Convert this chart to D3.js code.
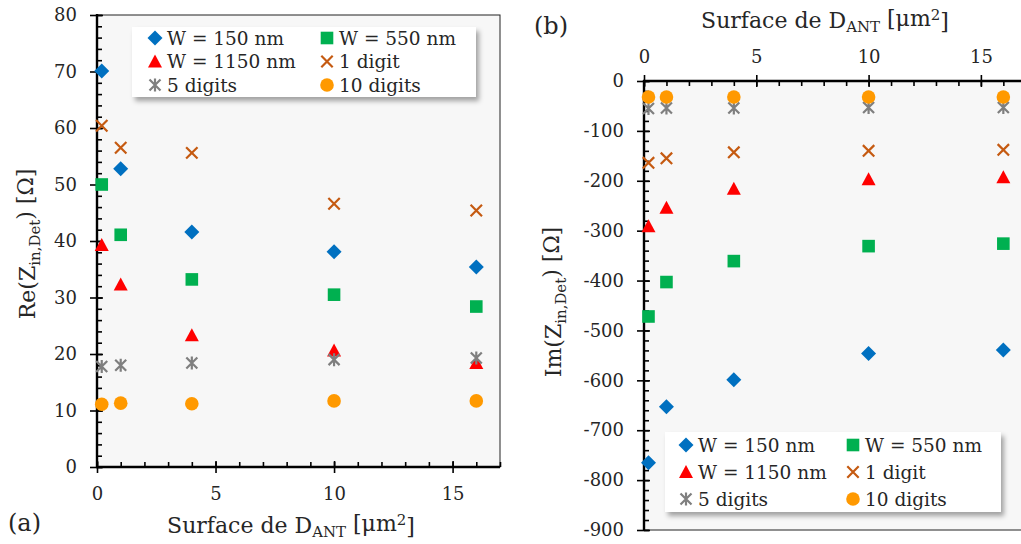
<!DOCTYPE html>
<html><head><meta charset="utf-8">
<script src="https://cdn.jsdelivr.net/npm/d3@7"></script>
<style>
body{margin:0;background:#fff;}
text{font-family:"DejaVu Serif",serif;fill:#262626;}
</style></head>
<body><svg id="c" width="1021" height="544"></svg>
<script>
// ---- data ----
const surfaces = [0.2, 1, 4, 10, 16];
const seriesNames = ["W = 150 nm","W = 550 nm","W = 1150 nm","1 digit","5 digits","10 digits"];
const reW150  = [70.1, 52.8, 41.6, 38.1, 35.4];
const reW550  = [50.0, 41.1, 33.2, 30.5, 28.4];
const reW1150 = [39.3, 32.3, 23.3, 20.6, 18.4];
const re1dig  = [60.4, 56.5, 55.6, 46.6, 45.4];
const re5dig  = [17.8, 18.0, 18.4, 19.0, 19.3];
const re10dig = [11.1, 11.3, 11.2, 11.7, 11.7];
const imW150  = [-765, -653, -599, -546, -539];
const imW550  = [-472, -403, -361, -331, -326];
const imW1150 = [-291, -254, -216, -197, -193];
const im1dig  = [-164, -155, -143, -140, -138];
const im5dig  = [-55, -54, -54, -53, -53];
const im10dig = [-32, -32, -32, -32, -32];
const xMajorTicks = [0, 5, 10, 15];
const reTicks = [0, 10, 20, 30, 40, 50, 60, 70, 80];
const imTicks = [0, -100, -200, -300, -400, -500, -600, -700, -800, -900];

const colors = ["#0070C0","#00B050","#FF0000","#C55A11","#7F7F7F","#FF9900"];
const shapes = ["diamond","square","triangle","x","star","circle"];
const fmt = d => String(d); // hyphen-minus as in the original

const svg = d3.select("#c");
const defs = svg.append("defs");
const f = defs.append("filter").attr("id","sh").attr("x","-10%").attr("y","-10%").attr("width","130%").attr("height","150%");
f.append("feDropShadow").attr("dx",3).attr("dy",4).attr("stdDeviation",2.5).attr("flood-color","#000").attr("flood-opacity",0.35);

function marker(g, shape, color, cx, cy){
  if(shape==="diamond"){
    const r=7.5;
    g.append("path").attr("d",`M${cx},${cy-r}L${cx+r},${cy}L${cx},${cy+r}L${cx-r},${cy}Z`).attr("fill",color);
  } else if(shape==="square"){
    const r=6.3;
    g.append("rect").attr("x",cx-r).attr("y",cy-r).attr("width",2*r).attr("height",2*r).attr("fill",color);
  } else if(shape==="triangle"){
    const r=7;
    g.append("path").attr("d",`M${cx},${cy-r}L${cx+r},${cy+r*0.85}L${cx-r},${cy+r*0.85}Z`).attr("fill",color);
  } else if(shape==="x"){
    const r=5.7;
    g.append("path").attr("d",`M${cx-r},${cy-r}L${cx+r},${cy+r}M${cx+r},${cy-r}L${cx-r},${cy+r}`).attr("stroke",color).attr("stroke-width",2.2);
  } else if(shape==="star"){
    const r=5.5;
    g.append("path").attr("d",`M${cx-r},${cy-r}L${cx+r},${cy+r}M${cx+r},${cy-r}L${cx-r},${cy+r}M${cx},${cy-r-1}L${cx},${cy+r+1}`).attr("stroke",color).attr("stroke-width",2.2);
  } else {
    g.append("circle").attr("cx",cx).attr("cy",cy).attr("r",6.8).attr("fill",color);
  }
}

function subText(sel, parts){
  let prev = null;
  parts.forEach(([t,m])=>{
    const ts = sel.append("tspan").text(t);
    let dy = 0;
    if(prev==='sub') dy -= 0.3; if(prev==='sup') dy += 0.38;
    if(m==='sub') dy += 0.3; if(m==='sup') dy -= 0.38;
    if(dy!==0) ts.attr("dy", dy+"em");
    if(m) ts.attr("font-size","68%");
    prev = m;
  });
}

function legend(o){
  const g = svg.append("g").attr("transform",`translate(${o.x},${o.y})`);
  g.append("rect").attr("width",o.w).attr("height",o.h).attr("fill","#fff").attr("filter","url(#sh)");
  seriesNames.forEach((n,i)=>{
    const col = i%2, row = Math.floor(i/2);
    const mx = o.mx + col*o.colGap, my = o.my + row*o.rowGap;
    marker(g, shapes[i], colors[i], mx, my);
    g.append("text").attr("x",mx+12).attr("y",my+6.5).attr("font-size",18.5).text(n);
  });
}

function panel(opts){
  const {x, y, top, data, xTitleY, yTitleX, yTitleParts} = opts;
  const [x0,x1] = x.range(), [y0,y1] = [y.range()[0], y.range()[1]];
  const g = svg.append("g");
  g.append("rect").attr("x",x0).attr("y",Math.min(y0,y1)).attr("width",x1-x0).attr("height",Math.abs(y0-y1)).attr("fill","#F7F7F7").attr("stroke","#222").attr("stroke-width",1);
  const axisY = top ? y.range()[1] : y.range()[0];
  const mkX = top ? d3.axisTop : d3.axisBottom;
  g.append("g").attr("transform",`translate(0,${axisY})`)
    .call(mkX(x).tickValues(d3.range(0,18,1)).tickSize(-5).tickFormat(""));
  g.append("g").attr("transform",`translate(0,${axisY})`)
    .call(mkX(x).tickValues(xMajorTicks).tickSize(-6).tickFormat(""));
  g.append("g").attr("class","lab").attr("transform",`translate(0,${axisY})`)
    .call(mkX(x).tickValues(xMajorTicks).tickSize(6).tickPadding(top?12:14).tickFormat(fmt));
  g.append("g").attr("transform",`translate(${x0},0)`)
    .call(d3.axisLeft(y).tickValues(opts.yMinor).tickSize(-5).tickFormat(""));
  g.append("g").attr("transform",`translate(${x0},0)`)
    .call(d3.axisLeft(y).tickValues(opts.yTicks).tickSize(-6).tickFormat(""));
  g.append("g").attr("class","lab").attr("transform",`translate(${x0},0)`)
    .call(d3.axisLeft(y).tickValues(opts.yTicks).tickSize(7).tickPadding(13).tickFormat(fmt));
  g.selectAll(".domain").attr("stroke","none");
  g.selectAll(".tick line").attr("stroke","#000").attr("stroke-width",1.6);
  g.selectAll(".lab text").attr("font-size",18).attr("fill","#262626").style("font-family","DejaVu Serif");
  g.append("line").attr("x1",x0-1).attr("x2",x1).attr("y1",axisY).attr("y2",axisY).attr("stroke","#000").attr("stroke-width",2.4);
  g.append("line").attr("x1",x0).attr("x2",x0).attr("y1",y.range()[0]+1).attr("y2",y.range()[1]-1).attr("stroke","#000").attr("stroke-width",2.4);
  const pg = svg.append("g");
  data.forEach((vals,i)=>{
    vals.forEach((v,j)=>marker(pg, shapes[i], colors[i], x(surfaces[j]), y(v)));
  });
  const xt = svg.append("text").attr("x",opts.xTitleX).attr("y",xTitleY).attr("text-anchor","middle").attr("font-size",22);
  subText(xt, [["Surface de D",null],["ANT","sub"],[" [μm",null],["2","sup"],["]",null]]);
  const yt = svg.append("text").attr("transform",`translate(${yTitleX},${opts.yTitleY}) rotate(-90)`).attr("text-anchor","middle").attr("font-size",22);
  subText(yt, yTitleParts);
}

const xA = d3.scaleLinear().domain([0,17]).range([97,500]);
const yA = d3.scaleLinear().domain([0,80]).range([467,15]);
panel({x:xA, y:yA, top:false,
  data:[reW150,reW550,reW1150,re1dig,re5dig,re10dig],
  yTicks:reTicks, yMinor:d3.range(0,81,2), xTitleX:291, xTitleY:533, yTitleX:35, yTitleY:244,
  yTitleParts:[["Re(Z",null],["in,Det","sub"],[") [Ω]",null]]});

const xB = d3.scaleLinear().domain([0,17]).range([644,1025.8]);
const yB = d3.scaleLinear().domain([-900,0]).range([530,81]);
panel({x:xB, y:yB, top:true,
  data:[imW150,imW550,imW1150,im1dig,im5dig,im10dig],
  yTicks:imTicks, yMinor:d3.range(-900,1,20), xTitleX:825, xTitleY:28, yTitleX:561, yTitleY:302,
  yTitleParts:[["Im(Z",null],["in,Det","sub"],[") [Ω]",null]]});

legend({x:132, y:27, w:344, h:70, mx:23, my:11, colGap:172, rowGap:23.5});
legend({x:665, y:432, w:336, h:80, mx:21, my:13, colGap:167, rowGap:27});

svg.append("text").attr("x",8).attr("y",531).attr("font-size",24).text("(a)");
svg.append("text").attr("x",534).attr("y",34).attr("font-size",24).text("(b)");
</script></body></html>
